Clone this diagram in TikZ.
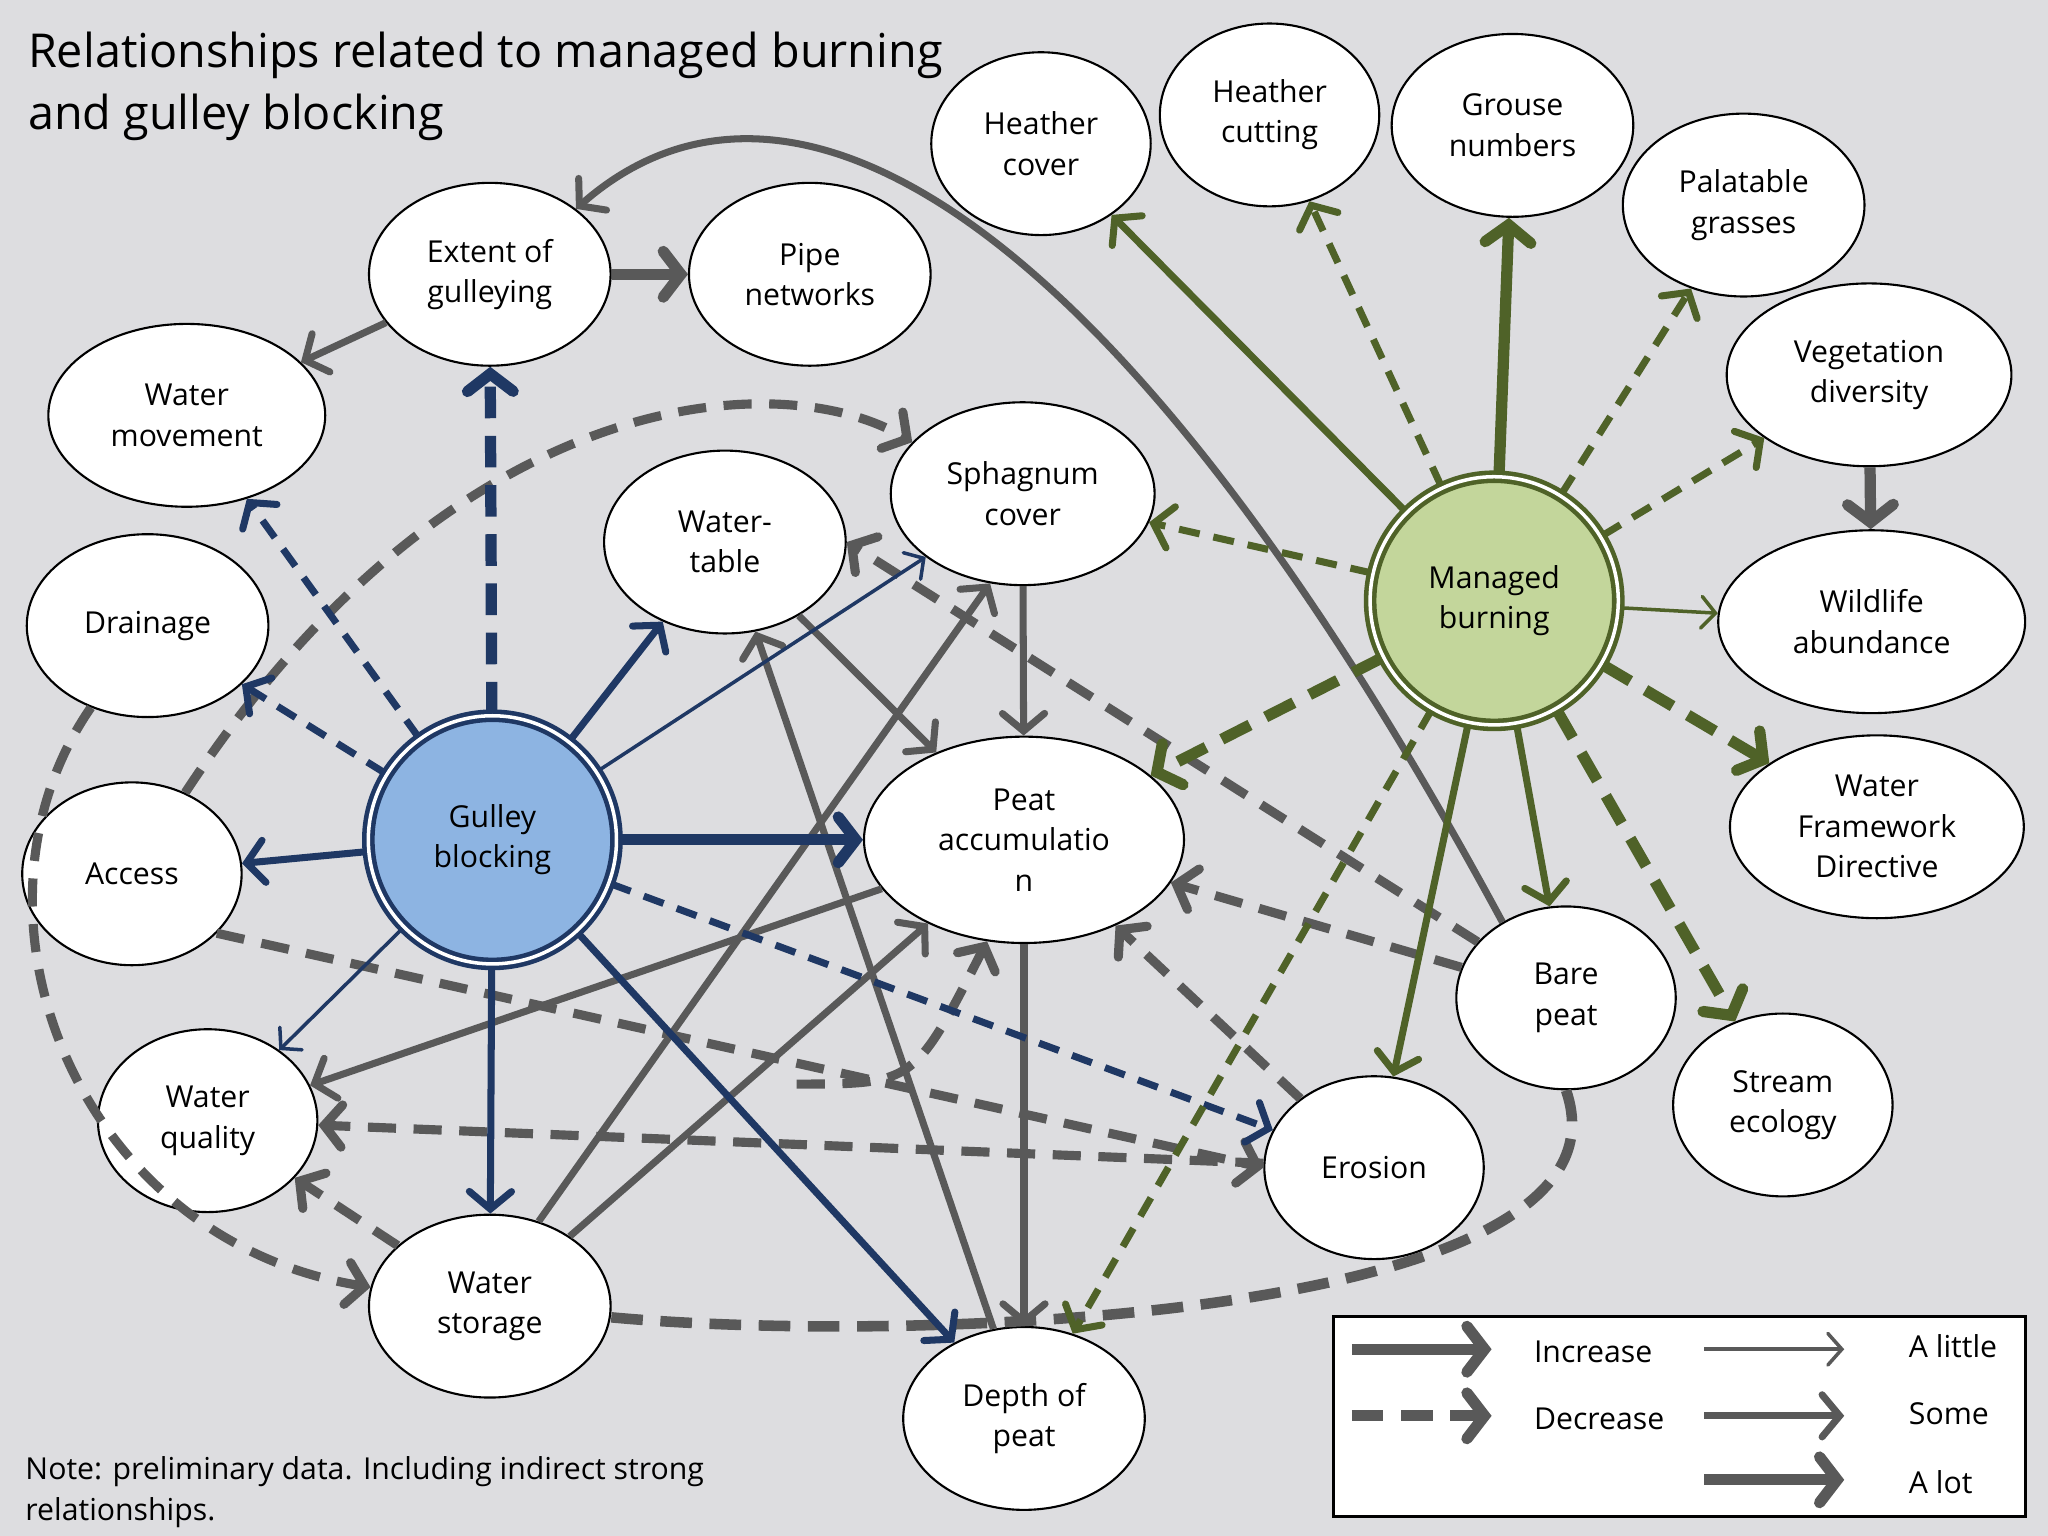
\documentclass[tikz,border=0pt]{standalone}
\usepackage{fontspec}
\setmainfont{Open Sans}
\usetikzlibrary{shapes.geometric,arrows.meta}
\newlength\uu \setlength\uu{0.013061cm}
\definecolor{navy}{HTML}{1F3864}
\definecolor{olive}{HTML}{4F6228}
\definecolor{gr}{HTML}{595959}
\definecolor{bg}{HTML}{DDDDE0}
\definecolor{gbfill}{HTML}{8DB4E2}
\definecolor{mbfill}{HTML}{C3D69B}
\begin{document}
\begin{tikzpicture}[x=0.013061cm,y=-0.013061cm,
  el/.style={ellipse,draw=black,fill=white,line width=0.6pt,minimum width=185\uu,minimum height=140\uu,align=center,inner sep=0pt,font=\fontsize{8.6}{11.5}\selectfont},
  hub/.style={circle,line width=1.3pt,double=white,double distance=1pt,minimum size=190\uu,align=center,font=\fontsize{8.6}{11.5}\selectfont},
  lt/.style={-{Straight Barb[length=4pt,width=9pt,line cap=round]},line width=1pt},
  sm/.style={-{Straight Barb[length=5pt,width=12pt,line cap=round]},line width=2pt},
  lot/.style={-{Straight Barb[length=5pt,width=13pt,line cap=round]},line width=3.2pt},
  dsh/.style={dash pattern=on 9pt off 5pt},
  dshs/.style={dash pattern=on 6pt off 4pt},
  gd/.style={R,sm,line width=2.6pt,dash pattern=on 8pt off 5pt},
  N/.style={draw=navy},G/.style={draw=olive},R/.style={draw=gr}]
\useasboundingbox (0,0) rectangle (1568,1176);
\fill[bg] (0,0) rectangle (1568,1176);
\node[anchor=north west,align=left,font=\fontsize{13.3}{17.5}\selectfont] (title) at (12,15) {Relationships related to managed burning\\and gulley blocking};
\node[anchor=north west,align=left,font=\fontsize{8.6}{11.5}\selectfont] (note) at (10,1106) {Note: preliminary data. Including indirect strong\\relationships.};

\node[el] (ext) at (375,210) {Extent of\\gulleying};
\node[el] (pipe) at (620,210) {Pipe\\networks};
\node[el,minimum width=212\uu] (wm) at (143,318) {Water\\movement};
\node[el,minimum width=168\uu] (hc) at (797,110) {Heather\\cover};
\node[el,minimum width=168\uu] (hcut) at (972,88) {Heather\\cutting};
\node[el] (gn) at (1158,96) {Grouse\\numbers};
\node[el] (pg) at (1335,157) {Palatable\\grasses};
\node[el,minimum width=218\uu] (vd) at (1431,287) {Vegetation\\diversity};
\node[el,minimum width=235\uu] (wa) at (1433,476) {Wildlife\\abundance};
\node[el,minimum width=225\uu] (wfd) at (1437,633) {Water\\Framework\\Directive};
\node[el,minimum width=168\uu] (se) at (1365,846) {Stream\\ecology};
\node[el,minimum width=202\uu] (sph) at (783,378) {Sphagnum\\cover};
\node[el] (wt) at (555,415) {Water-\\table};
\node[el] (dr) at (113,479) {Drainage};
\node[el,minimum width=168\uu] (acc) at (101,669) {Access};
\node[el,minimum width=245\uu,minimum height=158\uu] (pa) at (784,643) {Peat\\accumulatio\\n};
\node[el,minimum width=168\uu] (bp) at (1199,764) {Bare\\peat};
\node[el,minimum width=168\uu] (wq) at (159,858) {Water\\quality};
\node[el,minimum width=168\uu] (er) at (1052,894) {Erosion};
\node[el] (ws) at (375,1000) {Water\\storage};
\node[el] (dp) at (784,1086) {Depth of\\peat};
\node[hub,draw=olive,fill=mbfill] (mb) at (1144,460) {Managed\\burning};
\node[hub,draw=navy,fill=gbfill] (gb) at (377,643) {Gulley\\blocking};

% grey edges
\draw[R,lot] (ext) -- (pipe);
\draw[R,sm] (ext) -- (wm);
\draw[R,lot] (vd) -- (wa);
\draw[R,sm] (bp.130) .. controls (850,150) and (600,20) .. (ext.north east);
\draw[gd] (bp) -- (wt.east);
\draw[gd] (bp) -- (pa);
\draw[R,line width=3pt,dsh] (bp.south) .. controls (1260,1010) and (700,1030) .. (ws);
\draw[gd] (er) -- (pa);
\draw[gd] (er) -- (wq);
\draw[gd] (acc.-35) -- (er.west);
\coordinate (br) at (610,830);
\draw[gd] (br) .. controls (700,830) .. (pa.250);
\draw[gd] (acc) .. controls (350,290) and (600,280) .. (sph.155);
\draw[gd] (dr) .. controls (-40,700) and (60,950) .. (ws);
\draw[R,sm] (sph) -- (pa);
\draw[R,sm] (wt) -- (pa);
\draw[R,sm] (pa) -- (wq);
\draw[R,sm] (pa) -- (dp);
\draw[R,sm] (ws.60) -- (sph.250);
\draw[R,sm] (ws) -- (pa);
\draw[gd] (ws) -- (wq);
\draw[R,sm] (dp) -- (wt);

% gulley blocking
\draw[N,lot,dsh] (gb) -- (ext);
\draw[N,sm,dshs] (gb) -- (wm);
\draw[N,sm,dshs] (gb) -- (dr);
\draw[N,sm] (gb) -- (acc);
\draw[N,sm] (gb) -- (wt);
\draw[N,lt] (gb) -- (sph);
\draw[N,lot] (gb) -- (pa);
\draw[N,sm,dshs] (gb) -- (er);
\draw[N,lt] (gb) -- (wq);
\draw[N,sm] (gb) -- (ws);
\draw[N,sm] (gb) -- (dp);

% managed burning
\draw[G,sm] (mb) -- (hc);
\draw[G,sm,dshs] (mb) -- (hcut);
\draw[G,lot] (mb) -- (gn);
\draw[G,sm,dshs] (mb) -- (pg);
\draw[G,sm,dshs] (mb) -- (vd);
\draw[G,lt] (mb) -- (wa);
\draw[G,lot,dsh] (mb) -- (wfd);
\draw[G,lot,dsh] (mb) -- (se);
\draw[G,sm] (mb) -- (bp);
\draw[G,sm] (mb) -- (er);
\draw[G,sm,dshs] (mb) -- (dp);
\draw[G,lot,dsh] (mb) -- (pa);
\draw[G,sm,dshs] (mb) -- (sph);

% legend
\node[draw=black,fill=white,line width=0.8pt,minimum width=530\uu,minimum height=153\uu,anchor=north west] (leg) at (1020,1007) {};
\begin{scope}[font=\fontsize{8.6}{11}\selectfont]
\coordinate (l1a) at (1035,1033); \coordinate (l1b) at (1142,1033);
\coordinate (l2a) at (1035,1084); \coordinate (l2b) at (1142,1084);
\draw[R,lot] (l1a) -- (l1b);
\draw[R,lot,dsh] (l2a) -- (l2b);
\node[anchor=west] (li) at (1165,1035) {Increase};
\node[anchor=west] (ld) at (1165,1086) {Decrease};
\coordinate (r1a) at (1305,1033); \coordinate (r1b) at (1412,1033);
\coordinate (r2a) at (1305,1084); \coordinate (r2b) at (1412,1084);
\coordinate (r3a) at (1305,1133); \coordinate (r3b) at (1412,1133);
\draw[R,lt] (r1a) -- (r1b);
\draw[R,sm] (r2a) -- (r2b);
\draw[R,lot] (r3a) -- (r3b);
\node[anchor=west] (la) at (1452,1031) {A little};
\node[anchor=west] (ls) at (1452,1082) {Some};
\node[anchor=west] (ll) at (1452,1135) {A lot};
\end{scope}
\end{tikzpicture}
\end{document}
